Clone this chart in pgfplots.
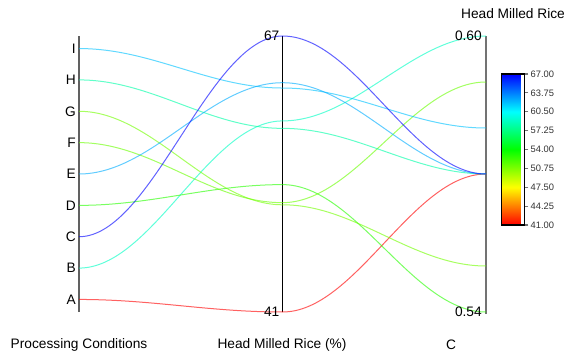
\documentclass[border=0pt]{standalone}
\usepackage{fontspec}
\setmainfont{Liberation Sans}
\usepackage{pgfplots}
\pgfplotsset{compat=1.18}

% Plot handler that joins successive points with S-shaped cubic curves
% (horizontal tangents on every vertical axis), as in parallel coordinates.
\makeatletter
\def\pcsc@k{0.36}
\def\pgfplothandlerparallelcurve{%
  \def\pgf@plotstreamstart{%
    \global\let\pgf@plotstreampoint=\pcsc@first
    \global\let\pgf@plotstreamspecial=\pgfutil@gobble
    \global\let\pgf@plotstreamend=\pgfutil@empty
  }%
}
\def\pcsc@first#1{%
  \pgf@process{#1}%
  \xdef\pcsc@lastx{\the\pgf@x}\xdef\pcsc@lasty{\the\pgf@y}%
  \pgf@plot@first@action{\pgfqpoint{\pcsc@lastx}{\pcsc@lasty}}%
  \global\let\pgf@plotstreampoint=\pcsc@next
}
\def\pcsc@next#1{%
  \pgf@process{#1}%
  \edef\pcsc@x{\the\pgf@x}\edef\pcsc@y{\the\pgf@y}%
  \dimen@=\pcsc@x\relax
  \advance\dimen@ by -\pcsc@lastx\relax
  \dimen@=\pcsc@k\dimen@
  \dimen@ii=\pcsc@lastx\relax
  \advance\dimen@ii by \dimen@
  \edef\pcsc@ca{\the\dimen@ii}%
  \dimen@ii=\pcsc@x\relax
  \advance\dimen@ii by -\dimen@
  \edef\pcsc@cb{\the\dimen@ii}%
  \pgfpathcurveto{\pgfqpoint{\pcsc@ca}{\pcsc@lasty}}%
                 {\pgfqpoint{\pcsc@cb}{\pcsc@y}}%
                 {\pgfqpoint{\pcsc@x}{\pcsc@y}}%
  \xdef\pcsc@lastx{\pcsc@x}\xdef\pcsc@lasty{\pcsc@y}%
}
\tikzset{parallel curve/.code={\let\tikz@plot@handler=\pgfplothandlerparallelcurve}}
\makeatother

% One polyline: category index (A=0 ... I=8), head milled rice (%), C.
% Each axis is scaled to [0,1]: categories with 0.4 padding, 41..67, 0.54..0.60.
\newcommand\pcline[3]{%
  \addplot[parallel curve, color of colormap={(#2-41)/26*1000},
           line width=0.75pt, draw opacity=0.62]
    table[x=axis, row sep=\\,
          y expr={\thisrow{axis}==0 ? (\thisrow{v}+0.4)/8.8 :
                  (\thisrow{axis}==1 ? (\thisrow{v}-41)/26 : (\thisrow{v}-0.54)/0.06)}]
    {axis v\\ 0 #1\\ 1 #2\\ 2 #3\\};
}

\begin{document}
\begin{tikzpicture}[x=0.75pt, y=0.75pt, font=\fontsize{10.3}{12}\selectfont]
\begin{axis}[
  at={(59.25pt,31.5pt)}, anchor=south west,
  scale only axis, width=305.25pt, height=207pt,
  xmin=0, xmax=2, ymin=0, ymax=1,
  clip=false,
  axis x line=none,
  axis y line*=left,
  y axis line style={line width=1.3pt, draw=black!62},
  xtick=\empty,
  ytick={0.04545,0.15909,0.27273,0.38636,0.5,0.61364,0.72727,0.84091,0.95455},
  yticklabels={A,B,C,D,E,F,G,H,I},
  major tick length=0pt,
  yticklabel style={font=\fontsize{10.3}{12}\selectfont, inner xsep=2.2pt},
  colormap={hmr}{rgb255(0cm)=(255,0,0); rgb255(1cm)=(255,255,0);
                 rgb255(2cm)=(0,255,0); rgb255(3cm)=(0,255,255); rgb255(4cm)=(0,0,255)},
  point meta min=41, point meta max=67,
  colorbar,
  colorbar style={
    at={(parent axis.north east)}, anchor=north west,
    xshift=3pt, yshift=-28.5pt,
    scale only axis, width=17.25pt, height=113.25pt,
    ytick={41,44.25,47.5,50.75,54,57.25,60.5,63.75,67},
    ytick pos=right,
    tick align=outside, major tick length=3pt,
    ytick style={draw=black!55, line width=0.9pt},
    axis line style={line width=0.9pt},
    yticklabel style={font=\fontsize{7}{8}\selectfont, text=black!80, inner xsep=1.5pt,
      /pgf/number format/.cd, fixed, fixed zerofill, precision=2, assume math mode=true},
  },
]
  % vertical axes for head milled rice and C
  \draw[black, line width=0.75pt] (axis cs:1,0) -- (axis cs:1,1);
  \draw[black!55, line width=1.4pt] (axis cs:2,-0.007) -- (axis cs:2,1);

  \pcline{0}{41}{0.57}
  \pcline{1}{59.0}{0.60}
  \pcline{3}{53.0}{0.54}
  \pcline{5}{51.3}{0.59}
  \pcline{6}{51.1}{0.55}
  \pcline{7}{58.3}{0.57}
  \pcline{8}{62.1}{0.58}
  \pcline{4}{62.6}{0.57}
  \pcline{2}{67}{0.57}

  \node[anchor=east, inner sep=0pt, xshift=-2.2pt] at (axis cs:1,1) {67};
  \node[anchor=east, inner sep=0pt, xshift=-2.2pt] at (axis cs:1,0) {41};
  \node[anchor=east, inner sep=0pt, xshift=-3pt] at (axis cs:2,1) {0.60};
  \node[anchor=east, inner sep=0pt, xshift=-3pt] at (axis cs:2,0) {0.54};
\end{axis}

\node at (513,340) {Head Milled Rice};
\node at (79,9) {Processing Conditions};
\node at (282,9) {Head Milled Rice (\%)};
\node at (451,9) {C};

\pgfresetboundingbox
\path[use as bounding box] (0,0) rectangle (568,354);
\end{tikzpicture}
\end{document}
